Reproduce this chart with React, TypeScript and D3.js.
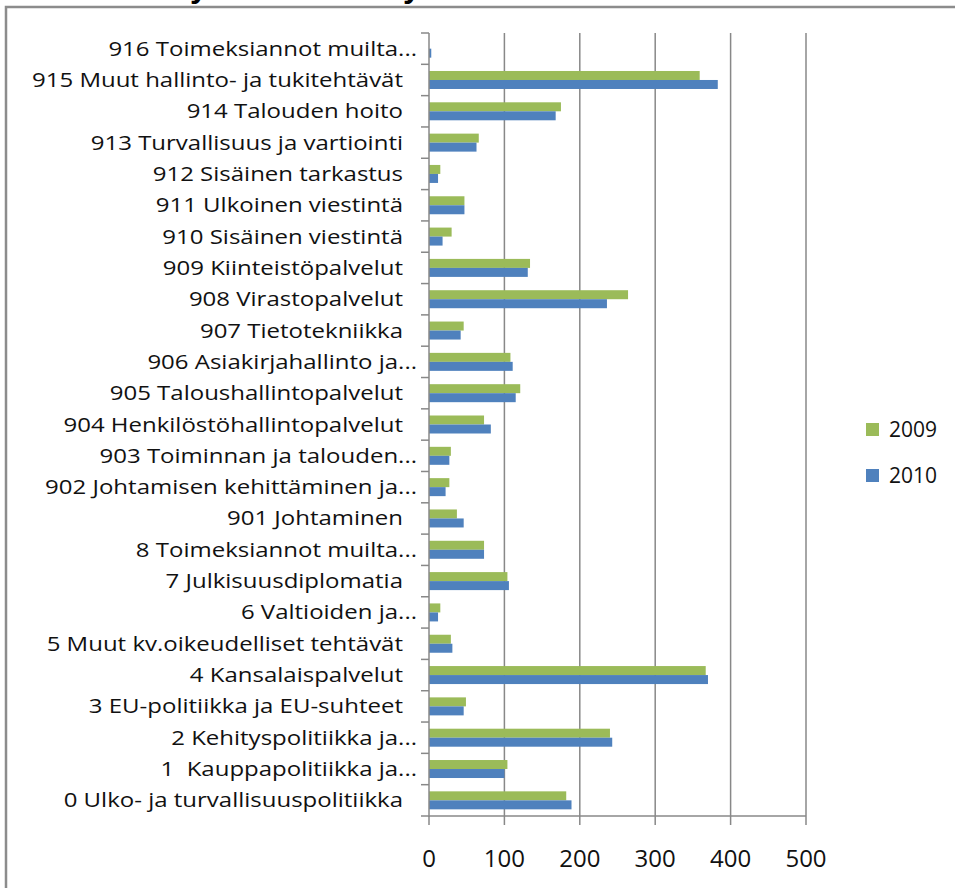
import React from "react";
import * as d3 from "d3";

const categories = [
  "0 Ulko- ja turvallisuuspolitiikka",
  "1  Kauppapolitiikka ja...",
  "2 Kehityspolitiikka ja...",
  "3 EU-politiikka ja EU-suhteet",
  "4 Kansalaispalvelut",
  "5 Muut kv.oikeudelliset tehtävät",
  "6 Valtioiden ja...",
  "7 Julkisuusdiplomatia",
  "8 Toimeksiannot muilta...",
  "901 Johtaminen",
  "902 Johtamisen kehittäminen ja...",
  "903 Toiminnan ja talouden...",
  "904 Henkilöstöhallintopalvelut",
  "905 Taloushallintopalvelut",
  "906 Asiakirjahallinto ja...",
  "907 Tietotekniikka",
  "908 Virastopalvelut",
  "909 Kiinteistöpalvelut",
  "910 Sisäinen viestintä",
  "911 Ulkoinen viestintä",
  "912 Sisäinen tarkastus",
  "913 Turvallisuus ja vartiointi",
  "914 Talouden hoito",
  "915 Muut hallinto- ja tukitehtävät",
  "916 Toimeksiannot muilta...",
];

const values2009 = [182, 104, 240, 49, 367, 29, 15, 104, 73, 37, 27, 29, 73, 121, 108, 46, 264, 134, 30, 47, 15, 66, 175, 359, 0];
const values2010 = [189, 100, 243, 46, 370, 31, 12, 106, 73, 46, 22, 27, 82, 115, 111, 42, 236, 131, 18, 47, 12, 63, 168, 383, 3];

const seriesNames = ["2009", "2010"];
const xTicks = [0, 100, 200, 300, 400, 500];

const COLORS = ["#9BBB59", "#4F81BD"];
const FONT = "'Open Sans', 'Liberation Sans', sans-serif";

export default function App() {
  const x = d3.scaleLinear().domain([0, 500]).range([429, 806]);
  const y = d3
    .scaleBand<string>()
    .domain([...categories].reverse())
    .range([33, 816])
    .paddingInner(0)
    .paddingOuter(0);
  const bw = y.bandwidth();
  const barH = 9;
  const boundaries = d3.range(categories.length + 1).map((i) => 33 + i * bw);

  return (
    <div style={{ position: "absolute", left: 0, top: 0 }}>
      <svg width={955} height={888} style={{ display: "block", background: "#fff" }}>
        <rect x={0} y={0} width={955} height={888} fill="#fff" />
        {/* cut-off title fragments (title lies above the visible area) */}
        <text x={190} y={-3} fontFamily="'Liberation Sans', sans-serif" fontWeight="bold" fontSize={32} fill="#000">y</text>
        <text x={403} y={-3} fontFamily="'Liberation Sans', sans-serif" fontWeight="bold" fontSize={32} fill="#000">y</text>
        {/* outer border */}
        <rect x={6} y={7} width={1000} height={1000} fill="none" stroke="#8c8c8c" strokeWidth={2.5} />

        {/* gridlines */}
        {xTicks.slice(1).map((t) => (
          <line key={"g" + t} x1={x(t)} x2={x(t)} y1={33} y2={816} stroke="#888" strokeWidth={1.5} />
        ))}

        {/* bars */}
        {categories.map((c, i) => {
          const cy = (y(c) as number) + bw / 2;
          return (
            <g key={c}>
              <rect x={x(0)} y={cy - barH} width={x(values2009[i]) - x(0)} height={barH} fill={COLORS[0]} />
              <rect x={x(0)} y={cy} width={x(values2010[i]) - x(0)} height={barH} fill={COLORS[1]} />
            </g>
          );
        })}

        {/* y axis */}
        <line x1={x(0)} x2={x(0)} y1={33} y2={817} stroke="#888" strokeWidth={1.5} />
        {boundaries.map((b, i) => (
          <line key={"yt" + i} x1={421} x2={x(0)} y1={b} y2={b} stroke="#888" strokeWidth={1.5} />
        ))}
        {/* x axis */}
        <line x1={x(0)} x2={x(500)} y1={816} y2={816} stroke="#888" strokeWidth={1.5} />
        {xTicks.map((t) => (
          <line key={"xt" + t} x1={x(t)} x2={x(t)} y1={816} y2={825} stroke="#888" strokeWidth={1.5} />
        ))}
        {xTicks.map((t) => (
          <text key={"xl" + t} x={x(t)} y={867} textAnchor="middle" fontFamily={FONT} fontSize={24} fill="#111">
            {t}
          </text>
        ))}

        {/* category labels */}
        {categories.map((c) => {
          const cy = (y(c) as number) + bw / 2;
          const ax = c.endsWith("...") ? 417 : 403;
          return (
            <text
              key={"l" + c}
              transform={`translate(${ax},${cy + 7}) scale(1.2,1)`}
              textAnchor="end"
              fontFamily={FONT}
              fontSize={20}
              fill="#111"
              style={{ whiteSpace: "pre" }}
            >
              {c}
            </text>
          );
        })}

        {/* legend */}
        {seriesNames.map((s, i) => (
          <g key={s} transform={`translate(866,${423 + i * 46})`}>
            <rect x={0} y={0} width={13} height={13} fill={COLORS[i]} />
            <text x={23} y={14} fontFamily={FONT} fontSize={21} fill="#111">
              {s}
            </text>
          </g>
        ))}
      </svg>
    </div>
  );
}
